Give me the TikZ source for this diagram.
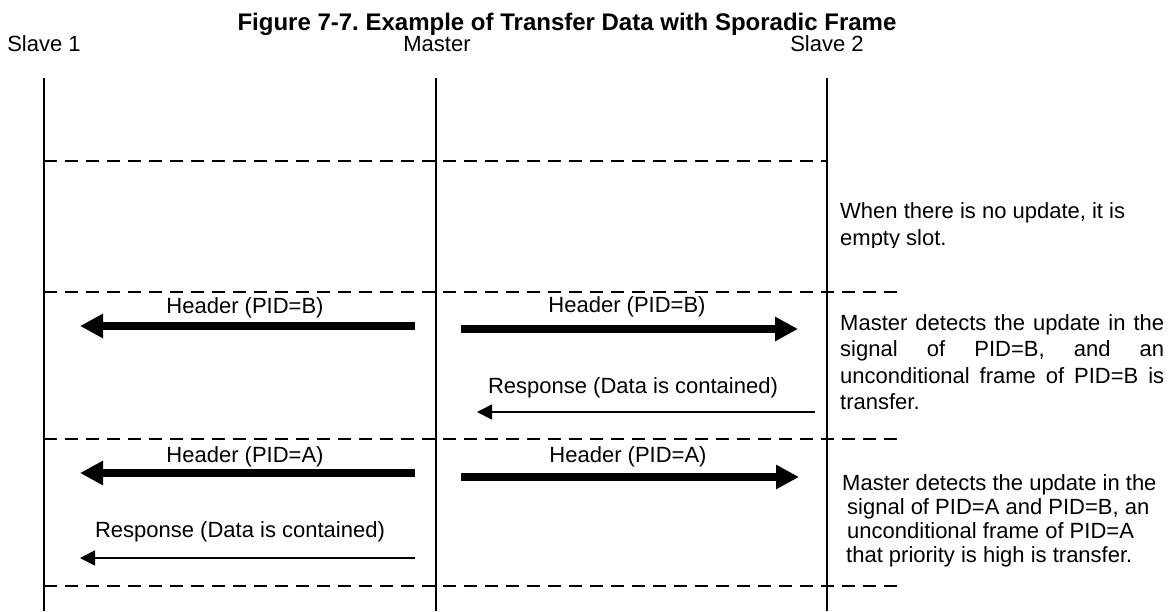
\documentclass[tikz,border=0pt]{standalone}
\usepackage{fontspec}
\setmainfont{Liberation Sans}
\usetikzlibrary{arrows.meta}
\frenchspacing
\begin{document}
\begin{tikzpicture}[x=1pt,y=-1pt,
  lbl/.style={font=\fontsize{22}{26}\selectfont, inner sep=0pt, anchor=base},
  blk/.style={inner sep=0pt, anchor=base west},
  life/.style={line width=1.8pt},
  slot/.style={line width=1.8pt, dash pattern=on 13pt off 8pt},
  bigarrow/.style={line width=8pt, -{Triangle[length=23pt,width=23pt]}},
  smallarrow/.style={line width=1.8pt, -{Triangle[length=15pt,width=15pt]}},
]
\useasboundingbox (0,0) rectangle (1173,611);
\fill[white] (0,0) rectangle (1173,611);

% title and lifeline labels
\node[lbl, font=\fontsize{24}{28}\selectfont\bfseries] (title) at (567,30) {Figure 7-7. Example of Transfer Data with Sporadic Frame};
\node[lbl] (s1) at (44,51) {Slave 1};
\node[lbl] (m) at (437,51) {Master};
\node[lbl] (s2) at (827,51) {Slave 2};

% lifelines
\coordinate (s1t) at (44,78);  \coordinate (s1b) at (44,611);
\coordinate (mt) at (436,78);  \coordinate (mb) at (436,611);
\coordinate (s2t) at (827,78); \coordinate (s2b) at (827,611);
\draw[life] (s1t) -- (s1b);
\draw[life] (mt) -- (mb);
\draw[life] (s2t) -- (s2b);

% slot separators
\coordinate (d1a) at (44,161); \coordinate (d1b) at (827,161);
\coordinate (d2a) at (44,292); \coordinate (d2b) at (897,292);
\coordinate (d3a) at (44,439); \coordinate (d3b) at (897,439);
\coordinate (d4a) at (44,586); \coordinate (d4b) at (897,586);
\draw[slot] (d1a) -- (d1b);
\draw[slot] (d2a) -- (d2b);
\draw[slot] (d3a) -- (d3b);
\draw[slot] (d4a) -- (d4b);

% slot with PID=B
\coordinate (hb1s) at (415,326); \coordinate (hb1e) at (80,326);
\coordinate (hb2s) at (461,329); \coordinate (hb2e) at (798,329);
\coordinate (rbs) at (815,412);  \coordinate (rbe) at (477,412);
\draw[bigarrow] (hb1s) -- (hb1e);
\draw[bigarrow] (hb2s) -- (hb2e);
\draw[smallarrow] (rbs) -- (rbe);
\node[lbl] (lhb1) at (245,313) {Header (PID=B)};
\node[lbl] (lhb2) at (627,312) {Header (PID=B)};
\node[lbl] (lrb) at (633,393) {Response (Data is contained)};

% slot with PID=A
\coordinate (ha1s) at (415,473); \coordinate (ha1e) at (80,473);
\coordinate (ha2s) at (461,477); \coordinate (ha2e) at (799,477);
\coordinate (ras) at (415,558);  \coordinate (rae) at (80,558);
\draw[bigarrow] (ha1s) -- (ha1e);
\draw[bigarrow] (ha2s) -- (ha2e);
\draw[smallarrow] (ras) -- (rae);
\node[lbl] (lha1) at (245,462) {Header (PID=A)};
\node[lbl] (lha2) at (628,462) {Header (PID=A)};
\node[lbl] (lra) at (240,537) {Response (Data is contained)};

% notes
\begin{scope}
\clip (830,150) rectangle (1173,247);
\node[blk, font=\fontsize{22}{27}\selectfont] (note1) at (840,218) {\parbox[t]{330pt}{\raggedright When there is no update, it is\\ empty slot.}};
\end{scope}
\node[blk, font=\fontsize{22}{26.5}\selectfont] (note2) at (840,330) {\parbox[t]{330pt}{\raggedright
\makebox[324pt][s]{Master detects the update in the}\\
\makebox[324pt][s]{signal of PID=B, and an}\\
\makebox[324pt][s]{unconditional frame of PID=B is}\\
transfer.}};
\node[blk, font=\fontsize{22}{24}\selectfont] (note3) at (842,490) {\parbox[t]{330pt}{\raggedright
Master detects the update in the\\
\hspace*{5pt}signal of PID=A and PID=B, an\\
\hspace*{5pt}unconditional frame of PID=A\\
\hspace*{4pt}that priority is high is transfer.}};
\end{tikzpicture}
\end{document}
